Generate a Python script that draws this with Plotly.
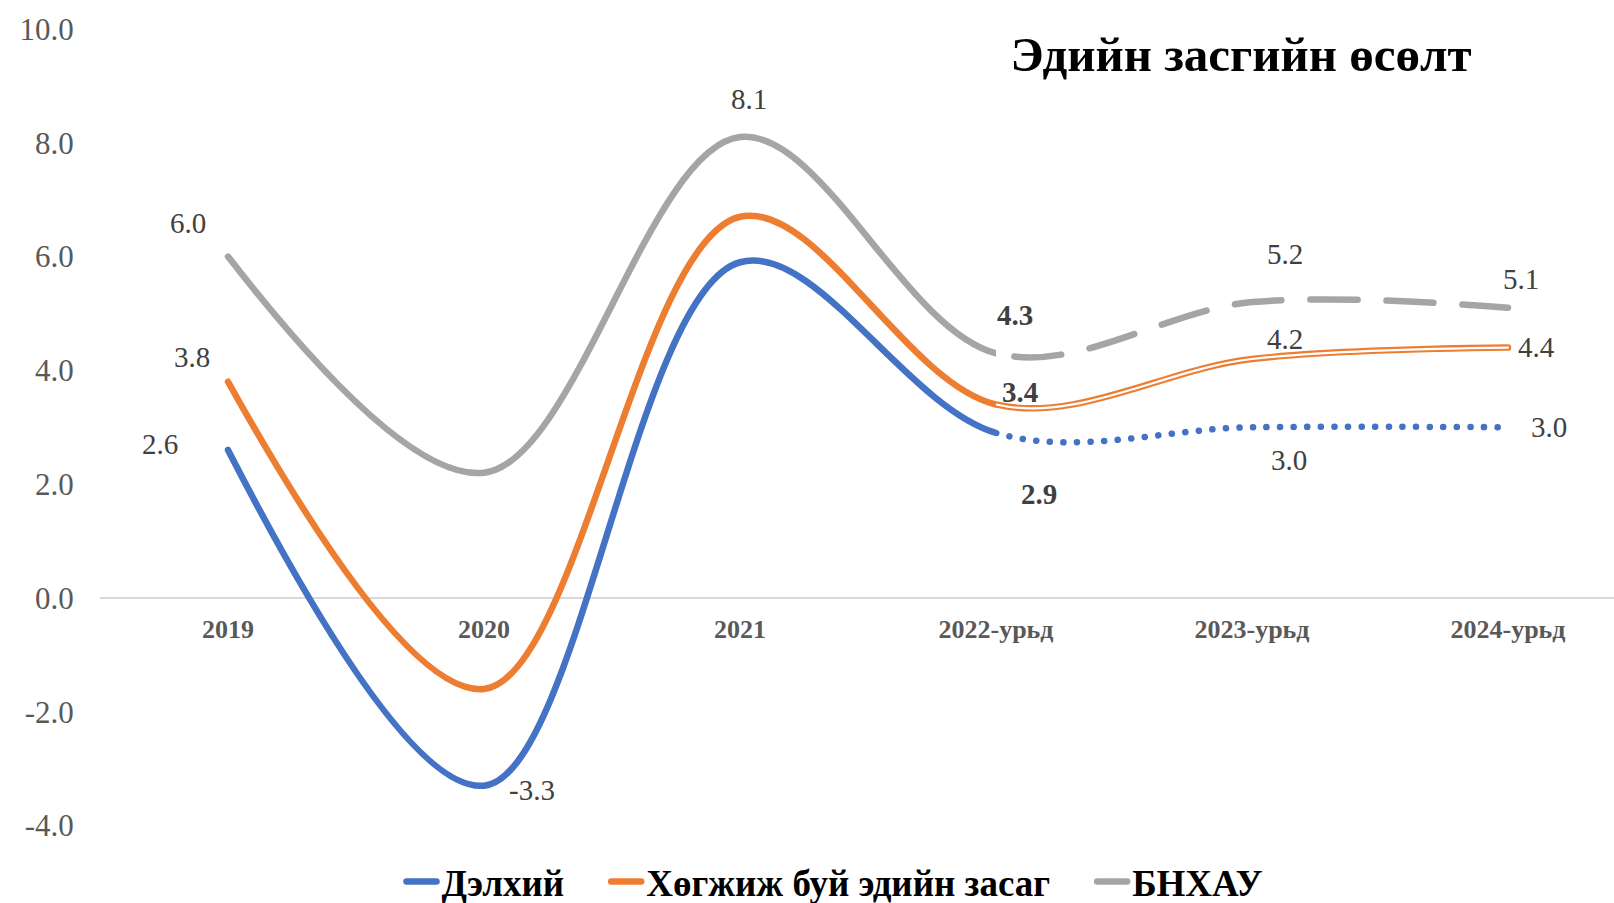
import plotly.graph_objects as go

# ---------------- data ----------------
categories = ["2019", "2020", "2021", "2022-урьд", "2023-урьд", "2024-урьд"]
world = [2.6, -3.3, 5.9, 2.9, 3.0, 3.0]
emerging = [3.8, -1.6, 6.7, 3.4, 4.2, 4.4]
china = [6.0, 2.2, 8.1, 4.3, 5.2, 5.1]
series_names = ["Дэлхий", "Хөгжиж буй эдийн засаг", "БНХАУ"]
y_ticks = [-4, -2, 0, 2, 4, 6, 8, 10]
title_text = "Эдийн засгийн өсөлт"
forecast_from = 3  # index of first forecast point (2022-урьд)

# ---------------- styles / layout ----------------
W, H = 1614, 903
M_L, M_R, M_T, M_B = 100, 0, 10, 10
PX_PER_CAT = 256.0
PX_PER_UNIT = (825.5 - 29) / 14.0
plot_w = W - M_L - M_R
plot_h = H - M_T - M_B
x_units = plot_w / PX_PER_CAT
x_lo, x_hi = -0.5, -0.5 + x_units
split_dom = (forecast_from - x_lo) / x_units
y_hi = 10 + (29 - M_T) / PX_PER_UNIT
y_lo = -4 - ((H - M_B) - 825.5) / PX_PER_UNIT
zero_pos = (0 - y_lo) / (y_hi - y_lo)

SERIF = "Liberation Serif"
BLUE, ORANGE, GRAY = "#4472C4", "#ED7D31", "#A5A5A5"
LW = 6.5

# label placements: (index, x shift px, y shift px, bold)
label_specs = [
    [(0, -68, 6, False), (1, 48, -4, False), (3, 43, -61, True), (4, 37, -33, False), (5, 41, 0, False)],
    [(0, -36, 25, False), (3, 24, 12, True), (4, 33, 20, False), (5, 28, 1, False)],
    [(0, -40, 34, False), (2, 9, 38, False), (3, 19, 38, True), (4, 33, 48, False), (5, 13, 29, False)],
]

all_series = [world, emerging, china]
colors = [BLUE, ORANGE, GRAY]

fig = go.Figure()
nb = "\u00a0" * 4

# history (solid) parts, clipped to the first x-axis domain
for vals, name, col in zip(all_series, series_names, colors):
    fig.add_trace(go.Scatter(
        x=categories, y=vals, xaxis="x", yaxis="y", mode="lines",
        line=dict(color=col, width=LW, shape="spline", smoothing=1.0),
        name=f"<b>{name}</b>" + (nb if name != series_names[-1] else ""),
        showlegend=True, hoverinfo="skip",
    ))

# forecast parts, clipped to the second x-axis domain
fig.add_trace(go.Scatter(
    x=categories, y=world, xaxis="x2", yaxis="y", mode="lines",
    line=dict(color=BLUE, width=LW, shape="spline", smoothing=1.0, dash="0.1px,13.5px"),
    showlegend=False, hoverinfo="skip"))
fig.add_trace(go.Scatter(
    x=categories, y=emerging, xaxis="x2", yaxis="y", mode="lines",
    line=dict(color=ORANGE, width=6.5, shape="spline", smoothing=1.0),
    showlegend=False, hoverinfo="skip"))
fig.add_trace(go.Scatter(
    x=categories, y=emerging, xaxis="x2", yaxis="y", mode="lines",
    line=dict(color="white", width=2.2, shape="spline", smoothing=1.0),
    showlegend=False, hoverinfo="skip"))
fig.add_trace(go.Scatter(
    x=categories, y=china, xaxis="x2", yaxis="y", mode="lines",
    line=dict(color=GRAY, width=LW, shape="spline", smoothing=1.0, dash="47px,29px"),
    showlegend=False, hoverinfo="skip"))

# data labels (category axes take the serial index of the category)
annotations = []
for vals, specs in zip(all_series, label_specs):
    for idx, dx, dy, bold in specs:
        txt = f"{vals[idx]:.1f}"
        annotations.append(dict(
            x=idx, y=vals[idx],
            xref="x" if idx < forecast_from else "x2", yref="y",
            text=f"<b>{txt}</b>" if bold else txt, showarrow=False,
            xshift=dx, yshift=dy, xanchor="center", yanchor="middle",
            font=dict(family=SERIF, size=29, color="#404040"),
        ))

xcommon = dict(type="category", categoryorder="array", categoryarray=categories,
               showgrid=False, zeroline=False, showline=False, automargin=False,
               ticks="outside", ticklen=8, tickcolor="rgba(0,0,0,0)",
               tickfont=dict(family=SERIF, size=26, color="#595959", weight="bold"),
               anchor="free", position=zero_pos, fixedrange=True)

fig.update_layout(
    width=W, height=H,
    margin=dict(l=M_L, r=M_R, t=M_T, b=M_B, autoexpand=False),
    paper_bgcolor="white", plot_bgcolor="white",
    xaxis=dict(xcommon, domain=[0, split_dom], range=[x_lo, forecast_from],
               tickmode="array", tickvals=categories[:forecast_from], ticktext=categories[:forecast_from]),
    xaxis2=dict(xcommon, domain=[split_dom, 1], range=[forecast_from, x_hi],
                tickmode="array", tickvals=categories[forecast_from:], ticktext=categories[forecast_from:]),
    yaxis=dict(range=[y_lo, y_hi], domain=[0, 1], anchor="x", automargin=False,
               tickmode="array", tickvals=y_ticks, ticktext=[f"{v:.1f}" for v in y_ticks],
               tickfont=dict(family=SERIF, size=31, color="#595959"),
               ticks="outside", ticklen=19, tickcolor="rgba(0,0,0,0)",
               showgrid=False, showline=False,
               zeroline=True, zerolinecolor="#D9D9D9", zerolinewidth=1.5, fixedrange=True),
    title=dict(text=f"<b>{title_text}</b>", x=1241 / W, xref="container", xanchor="center",
               y=1 - 54 / H, yref="container", yanchor="middle", automargin=False,
               font=dict(family=SERIF, size=49, color="black")),
    legend=dict(orientation="h", x=(835 - M_L) / plot_w, xanchor="center",
                y=((H - M_B) - 882) / plot_h, yanchor="middle",
                font=dict(family=SERIF, size=37, color="black"),
                bgcolor="rgba(0,0,0,0)", itemclick=False),
    annotations=annotations,
    showlegend=True,
)

post = ("var s=document.createElement('style');"
        "s.textContent='html,body{margin:0 !important;padding:0 !important;overflow:hidden;}"
        ".js-line{stroke-linecap:round !important;stroke-linejoin:round !important;}';"
        "document.head.appendChild(s);")
fig.write_html("out.html", post_script=post, config={"displayModeBar": False})
